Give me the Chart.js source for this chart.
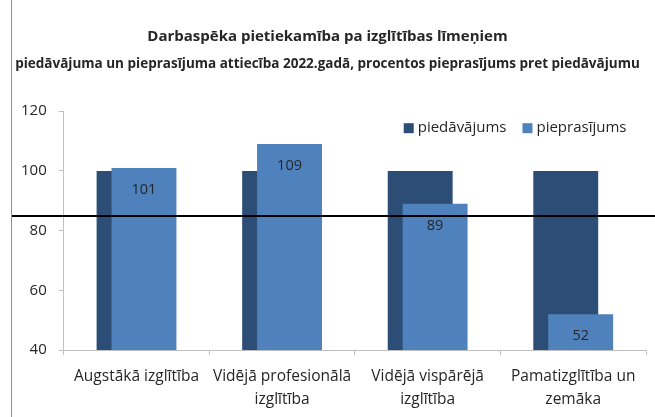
<!DOCTYPE html>
<html>
<head>
<meta charset="utf-8">
<script src="https://cdn.jsdelivr.net/npm/chart.js@4/dist/chart.umd.min.js"></script>
<style>
  html, body { margin: 0; padding: 0; background: #fff; }
  #wrap { position: relative; width: 655px; height: 417px; }
  #edge { position: absolute; left: 11px; top: 0; width: 1px; height: 417px; background: #19e619; }
</style>
</head>
<body>
<div id="wrap">
  <canvas id="chart" width="655" height="417"></canvas>
  <div id="edge"></div>
</div>
<script>
(function () {
  "use strict";

  const categories = [
    ["Augstākā izglītība"],
    ["Vidējā profesionālā", "izglītība"],
    ["Vidējā vispārējā", "izglītība"],
    ["Pamatizglītība un", "zemāka"]
  ];
  const supply = [100, 100, 100, 100];
  const demand = [101, 109, 89, 52];
  const referenceLine = 85;
  const yMin = 40, yMax = 120, yStep = 20;

  const FONT = "'Open Sans', 'Noto Sans', sans-serif";
  const TEXT = "#262626";

  // demand bars sit in front of the supply bars: skip them in the normal pass, draw after
  const barsOnTop = {
    id: "barsOnTop",
    beforeDatasetDraw(chart, args) {
      if (args.index === 1) return false;
    },
    afterDatasetsDraw(chart) {
      const ctx = chart.ctx;
      const a = chart.chartArea;
      ctx.save();
      ctx.beginPath();
      ctx.rect(a.left, a.top, a.right - a.left, a.bottom - a.top);
      ctx.clip();
      chart.getDatasetMeta(1).controller.draw();
      ctx.restore();
    }
  };

  // horizontal reference line across the whole picture
  const refLinePlugin = {
    id: "refLine",
    afterDatasetsDraw(chart) {
      const ctx = chart.ctx;
      const y = Math.round(chart.scales.y.getPixelForValue(referenceLine));
      ctx.save();
      ctx.strokeStyle = "#000";
      ctx.lineWidth = 2;
      ctx.beginPath();
      ctx.moveTo(11, y);
      ctx.lineTo(chart.width, y);
      ctx.stroke();
      ctx.restore();
    }
  };

  // values inside the demand bars
  const valueLabels = {
    id: "valueLabels",
    afterDatasetsDraw(chart) {
      const ctx = chart.ctx;
      const meta = chart.getDatasetMeta(1);
      ctx.save();
      ctx.font = "14.5px " + FONT;
      ctx.fillStyle = TEXT;
      ctx.textAlign = "center";
      ctx.textBaseline = "middle";
      meta.data.forEach(function (bar, i) {
        ctx.fillText(String(demand[i]), bar.x, bar.y + 22);
      });
      ctx.restore();
    }
  };

  // legend drawn inside the plot area, top right
  const innerLegend = {
    id: "innerLegend",
    afterDraw(chart) {
      const ctx = chart.ctx;
      const ds = chart.data.datasets;
      ctx.save();
      ctx.font = "15px " + FONT;
      ctx.textBaseline = "middle";
      let x = chart.chartArea.left + 340;
      const y = chart.chartArea.top + 17;
      ds.forEach(function (d) {
        ctx.fillStyle = d.backgroundColor;
        ctx.fillRect(x, y - 5, 10, 10);
        ctx.fillStyle = TEXT;
        ctx.textAlign = "left";
        ctx.fillText(d.label, x + 14, y);
        x += 14 + ctx.measureText(d.label).width + 16;
      });
      ctx.restore();
    }
  };

  new Chart(document.getElementById("chart"), {
    type: "bar",
    data: {
      labels: categories,
      datasets: [
        {
          label: "piedāvājums",
          data: supply,
          backgroundColor: "#2c4d75",
          categoryPercentage: 0.205,
          barPercentage: 4.35
        },
        {
          label: "pieprasījums",
          data: demand,
          backgroundColor: "#4f81bd",
          categoryPercentage: 0.205,
          barPercentage: 4.35
        }
      ]
    },
    options: {
      responsive: false,
      devicePixelRatio: 1,
      animation: false,
      layout: { padding: { left: 9, right: 9, top: 28, bottom: -4 } },
      plugins: {
        legend: { display: false },
        tooltip: { enabled: false },
        title: {
          display: true,
          text: "Darbaspēka pietiekamība pa izglītības līmeņiem",
          color: TEXT,
          font: { family: FONT, size: 15, weight: "bold" },
          padding: { top: 0, bottom: 5 }
        },
        subtitle: {
          display: true,
          text: "piedāvājuma un pieprasījuma attiecība 2022.gadā, procentos pieprasījums pret piedāvājumu",
          color: TEXT,
          font: { family: FONT, size: 13.5, weight: "bold" },
          padding: { top: 5, bottom: 39 }
        }
      },
      scales: {
        x: {
          grid: {
            display: true,
            drawOnChartArea: false,
            drawTicks: true,
            tickLength: 5,
            color: "#bfbfbf",
            offset: true
          },
          border: { color: "#bfbfbf" },
          ticks: {
            color: TEXT,
            padding: 10,
            font: { family: FONT, size: 15.5, lineHeight: 1.48 },
            maxRotation: 0,
            autoSkip: false
          }
        },
        y: {
          min: yMin,
          max: yMax,
          grid: {
            display: true,
            drawOnChartArea: false,
            drawTicks: true,
            tickLength: 5,
            color: "#bfbfbf"
          },
          border: { color: "#bfbfbf" },
          ticks: {
            stepSize: yStep,
            color: TEXT,
            padding: 12,
            font: { family: FONT, size: 15 }
          }
        }
      }
    },
    plugins: [barsOnTop, refLinePlugin, valueLabels, innerLegend]
  });
})();
</script>
</body>
</html>
